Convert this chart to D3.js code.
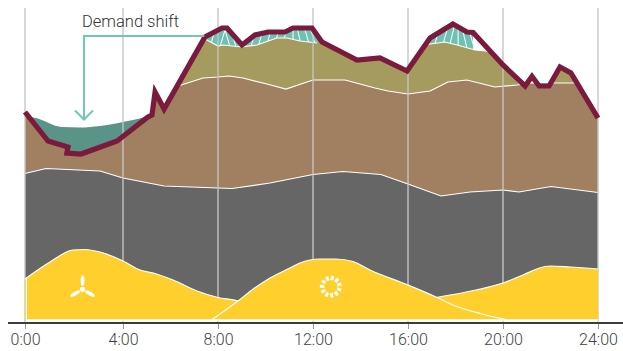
<!DOCTYPE html>
<html>
<head>
<meta charset="utf-8">
<style>
html,body{margin:0;padding:0;background:#fff}
svg{display:block}
text{font-family:Roboto,sans-serif}
</style>
<script src="https://cdn.jsdelivr.net/npm/d3@7"></script>
</head>
<body>
<svg id="c" width="623" height="351"></svg>
<script>
// All series: [hour, level]
const tickHours = [0,4,8,12,16,20,24];
const tickLabels = ["0:00","4:00","8:00","12:00","16:00","20:00","24:00"];
const annotation = "Demand shift";
const demand = [[0,208],[0.94,179],[1.755,173],[1.71,167],[2.29,166],[3.76,179],[5.05,203],[5.22,205],[5.35,228],[5.73,211],[7.45,283],[8.17,292],[8.38,292],[9.01,275],[9.56,285],[10.11,288],[10.82,288],[11.16,292],[11.96,292],[12.38,278],[13.85,260],[14.82,262],[15.96,249],[16.93,282],[17.89,296],[18.48,288],[18.74,287.5],[20,255],[20.93,234],[21.22,243.5],[21.52,234],[21.94,234],[22.4,253],[22.86,247],[24,202]];
const surplusTop = [[0,204],[0.45,202],[1.5,193],[2.25,192.5],[3.06,194],[4,198],[5.13,204]];
const storage = [[0,208],[0.94,179],[1.755,173],[1.71,167],[2.29,166],[3.76,179],[5.05,203],[5.22,205],[5.35,228],[5.73,211],[6.32,234],[7.37,242],[8,243],[8.46,244],[9.05,242],[10.06,236],[10.86,231],[12,240],[13.35,240],[14.61,232],[15.16,229],[16,226],[16.93,229],[17.68,238],[18.48,240],[19.66,233],[20.59,235],[21.22,237],[23.12,237],[24,202]];
const hydro = [[6.32,234],[7.41,280],[7.54,280],[8,274],[8.21,275],[8.99,273],[9.64,275],[10.48,282],[10.91,282],[11.45,279],[12.17,277],[12.38,278],[13.85,260],[14.82,262],[15.96,249],[16.72,275],[16.93,276],[17.56,278],[18.07,275],[18.82,270],[19.28,269],[19.54,267],[20,255],[20.67,236],[22.1,237],[22.4,253],[22.86,247],[23.12,237]];
const base = [[0,146.5],[0.86,151.5],[3.06,149],[4,142],[5.73,134],[8,132],[8.59,131.5],[10.19,137],[12,145.5],[13.26,148.5],[14.86,145.5],[16,136],[17.39,124],[18.61,128],[20,130],[20.67,128],[22.02,133.5],[24,127.5]];
const windNight = [[0,41],[1.02,58],[1.96,70],[2.45,70.5],[3.06,68],[4,59],[4.72,50],[5.35,46.5],[6.11,40],[7.12,29],[8,22.5],[8.84,19],[9.35,0]];
const windEvening = [[17.18,22.5],[18.86,30],[20,37],[20.84,45],[21.77,53.5],[21.98,54],[22.82,53],[24,51]];
const solar = [[7.75,0.5],[8.84,19],[9.43,30],[10.19,42],[11.03,52],[11.45,57],[12.29,61],[12.97,61],[13.68,58.5],[14.4,50],[16,35],[17.18,23],[17.89,15],[19.03,6.5],[20.13,0.5]];
const hatchHours = [7.75,8.17,8.42,8.67,8.84,9.47,9.77,10.11,10.44,10.78,11.16,11.45,11.79,12.04,17.18,17.52,17.81,18.11,18.4,18.69,18.99];
const hatchLean = [0.25,0.25,-0.25,-0.25,-0.25,0.25,0.25,0.25,0.25,0.2,0,-0.2,-0.25,-0.25,0.25,0.25,0.2,0,-0.2,-0.25,-0.25];

const colors = {surplus:"#5a9488",gap:"#6fc1b3",hydro:"#a69b5e",storage:"#a08060",base:"#666666",yellow:"#ffcf2e",demand:"#7a1a3c",grid:"#c4c4c4",axis:"#3c3c3c",text:"#3f3f3f"};

const x = d3.scaleLinear().domain([0,4,24]).range([25,123,598]);
const y = d3.scaleLinear().domain([0,300]).range([320,20]);
const svg = d3.select("#c");
const area = d3.area().x(d=>x(d[0])).y0(y(0)).y1(d=>y(d[1]));
const line = d3.line().x(d=>x(d[0])).y(d=>y(d[1]));
const areaS = d3.area().curve(d3.curveMonotoneX).x(d=>x(d[0])).y0(y(0)).y1(d=>y(d[1]));
const lineS = d3.line().curve(d3.curveMonotoneX).x(d=>x(d[0])).y(d=>y(d[1]));

svg.append("clipPath").attr("id","under").append("path").attr("d",area(demand));

const fill = (data,col)=>svg.append("path").attr("d",area(data)).attr("fill",col);
const edge = (data,w=1.2)=>svg.append("path").attr("d",line(data)).attr("fill","none").attr("stroke","#fff").attr("stroke-width",w);
const fillS = (data)=>svg.append("path").attr("d",areaS(data)).attr("fill",colors.yellow);
const edgeS = (data)=>svg.append("path").attr("d",lineS(data)).attr("fill","none").attr("stroke","#fff").attr("stroke-width",1.2);

// morning surplus
svg.append("path").attr("d",areaS(surplusTop)).attr("fill",colors.surplus);

// gaps under demand, hatched
const gapGroup = svg.append("g").attr("clip-path","url(#under)");
[[7.3,12.5],[16.6,19.7]].forEach(r=>{
  gapGroup.append("path").attr("d",area(demand.filter(d=>d[0]>=r[0]&&d[0]<=r[1]))).attr("fill",colors.gap);
});
gapGroup.selectAll("line").data(hatchHours).join("line")
  .attr("x1",(d,i)=>x(d-hatchLean[i])).attr("y1",y(260))
  .attr("x2",(d,i)=>x(d+hatchLean[i])).attr("y2",y(300))
  .attr("stroke","#fff").attr("stroke-width",1);

// stacked layers
fill(hydro,colors.hydro);
edge(hydro.filter(d=>d[0]>=7.4&&d[0]<=12.3));
edge(hydro.filter(d=>d[0]>=16.7&&d[0]<=19.6));
fill(storage,colors.storage);
edge(storage.filter(d=>d[0]>=6.32&&d[0]<=23.12));
fill(base,colors.base);
edge(base);

// gridlines
svg.append("g").selectAll("line").data(tickHours).join("line")
  .attr("x1",d=>x(d)).attr("x2",d=>x(d)).attr("y1",8).attr("y2",322)
  .attr("stroke",colors.grid).attr("stroke-opacity",0.85).attr("stroke-width",1.6);

// renewables
fillS(windNight);
fillS(windEvening);
edgeS(windEvening);
edgeS(windNight);
fillS(solar);
edgeS(solar);
svg.append("line").attr("x1",x(0)+0.9).attr("x2",x(24)).attr("y1",y(0)).attr("y2",y(0)).attr("stroke","#fff").attr("stroke-width",1.4);
svg.append("line").attr("x1",x(0)+1.4).attr("x2",x(0)+1.4).attr("y1",y(41)).attr("y2",y(0)).attr("stroke","#fff").attr("stroke-width",1.2);

// icons
const turbine = svg.append("g").attr("transform",`translate(${x(2.35)},${y(30.7)})`).attr("fill","#fff");
turbine.append("circle").attr("r",2.6);
[0,120,240].forEach(a=>turbine.append("ellipse").attr("cx",0).attr("cy",-8.6).attr("rx",1.9).attr("ry",5.4).attr("transform",`rotate(${a})`));
const sun = svg.append("g").attr("transform",`translate(${x(12.75)},${y(33.3)})`);
d3.range(11).forEach(i=>sun.append("line").attr("y1",-6.5).attr("y2",-11).attr("stroke","#fff").attr("stroke-width",3).attr("transform",`rotate(${i*360/11+10})`));

// demand curve
svg.append("path").attr("d",line(demand)).attr("fill","none").attr("stroke",colors.demand)
  .attr("stroke-width",5.2).attr("stroke-linejoin","miter").attr("stroke-miterlimit",4);

// annotation
svg.append("text").attr("x",82).attr("y",27).attr("font-size",16.5).attr("font-weight",300).attr("fill","#333").text(annotation);
const ann = d3.path();
ann.moveTo(x(7.42),36); ann.lineTo(84,36); ann.lineTo(84,120);
ann.moveTo(75,110.5); ann.lineTo(84,119.5); ann.lineTo(93,110.5);
svg.append("path").attr("d",ann.toString()).attr("fill","none").attr("stroke","#74c7b6").attr("stroke-width",2);

// axis
svg.append("line").attr("x1",8).attr("x2",623).attr("y1",323).attr("y2",323).attr("stroke",colors.axis).attr("stroke-width",2);
const axis = d3.axisBottom(x).tickValues(tickHours).tickFormat((d,i)=>tickLabels[i]).tickSize(5).tickPadding(5);
const g = svg.append("g").attr("transform","translate(0,324)").call(axis);
g.select(".domain").remove();
g.selectAll("line").attr("stroke","#9a9a9a");
g.selectAll("text").attr("font-family","Roboto,sans-serif").attr("font-size",16).attr("font-weight",300).attr("fill",colors.text);
</script>
</body>
</html>
